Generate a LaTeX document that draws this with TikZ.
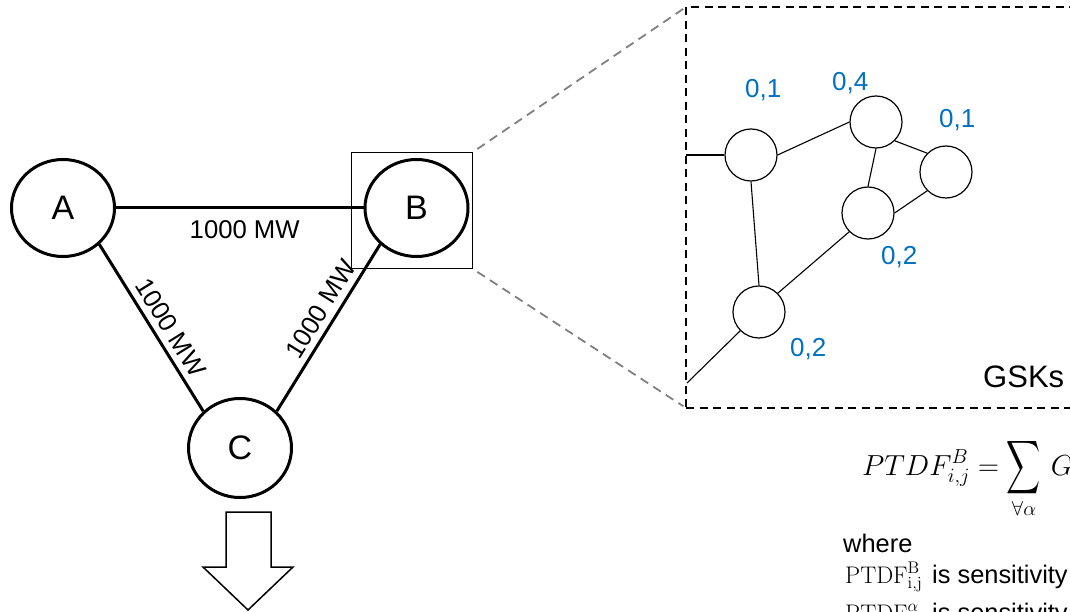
\RequirePackage{fix-cm}
\documentclass[tikz,border=0pt]{standalone}
\usepackage{exscale}
\usepackage{graphicx}
\usepackage[no-math]{fontspec}
\newfontfamily\arial{Liberation Sans}
\usetikzlibrary{shapes.geometric}
\definecolor{gskblue}{RGB}{0,112,192}
\definecolor{zoomgray}{RGB}{128,128,128}
\newcommand{\bigsum}{\mathop{\vcenter{\hbox{\scalebox{0.95}[1.5]{$\displaystyle\sum$}}}}\limits}

\begin{document}
\begin{tikzpicture}[x=1pt,y=-1pt,
  bus/.style={draw, line width=3pt, ellipse, minimum width=103pt, minimum height=97pt,
    inner sep=0pt, font=\arial\fontsize{34}{40}\selectfont},
  tie/.style={line width=3pt},
  flowlabel/.style={font=\arial\fontsize{25.7}{30}\selectfont, inner sep=0pt},
  subbus/.style={draw, circle, line width=1.2pt, minimum size=52pt, inner sep=0pt},
  subline/.style={line width=1.1pt},
  gsk/.style={text=gskblue, font=\arial\fontsize{26}{30}\selectfont, inner sep=0pt, anchor=base west},
  zoomline/.style={draw=zoomgray, line width=1.8pt, dash pattern=on 9pt off 6pt},
  plain/.style={inner sep=0pt, anchor=base west},
  bodytext/.style={plain, font=\arial\fontsize{25.4}{30}\selectfont},
]
\useasboundingbox (0,0) rectangle (1070,612);
\clip (0,0) rectangle (1070,612);

% three-bus system
\node[bus] (A) at (63,208) {A};
\node[bus] (B) at (416.5,208) {B};
\node[bus, minimum height=99pt] (C) at (240,448) {C};

\draw[tie] (A) -- node[flowlabel, pos=0.52, below=11pt] {1000 MW} (B);
\draw[tie] (A.-45) -- node[flowlabel, sloped, pos=0.55, above=6pt] {1000 MW} (C.135);
\draw[tie] (C.45) -- node[flowlabel, sloped, pos=0.56, above=6pt] {1000 MW} (B.-135);

% load arrow below C
\draw[line width=1.5pt, fill=white, line join=miter]
  (226,512) -- (271,512) -- (271,567) -- (293,567) -- (248,610)
  -- (203,567) -- (226,567) -- cycle;

% zoom window on bus B
\node[draw, line width=1.3pt, minimum width=121pt, minimum height=116pt, inner sep=0pt]
  (Bzone) at (412,210.5) {};
\node[draw, line width=2pt, dash pattern=on 8pt off 5.5pt, minimum width=400pt,
  minimum height=401pt, inner sep=0pt, outer sep=0pt, anchor=north west]
  (gskzone) at (686,7) {};
\draw[zoomline, shorten <=5pt, shorten >=3pt] (Bzone.north east) -- (gskzone.north west);
\draw[zoomline, shorten <=5pt, shorten >=3pt] (Bzone.south east) -- (gskzone.south west);

% internal network of zone B
\node[subbus] (g1) at (751,155) {};
\node[subbus] (g2) at (876,122) {};
\node[subbus] (g3) at (946,172) {};
\node[subbus] (g4) at (868,213) {};
\node[subbus] (g5) at (759,312) {};
\coordinate (w1) at (686,155);
\coordinate (w2) at (687,383);

\draw[subline] (w1) -- (g1.west);
\draw[subline] (g1.east) -- (g2.west);
\draw[subline] (g1.south) -- (g5.north);
\draw[subline] (g2.south) -- (g4.north);
\draw[subline] (g2.-45) -- (g3.135);
\draw[subline] (g3.-135) -- (g4.east);
\draw[subline] (g4.-135) -- (g5.45);
\draw[subline] (g5.-135) -- (w2);

% generation shift keys
\node[gsk] (k1) at (745,98) {0,1};
\node[gsk] (k2) at (832,91) {0,4};
\node[gsk] (k3) at (939,128) {0,1};
\node[gsk] (k4) at (881,265) {0,2};
\node[gsk] (k5) at (790,356) {0,2};
\node[plain, font=\arial\fontsize{31}{36}\selectfont] (gsklabel) at (983,387) {GSKs};

% zonal PTDF
\node[plain, font=\fontsize{29}{34}\selectfont] (ptdf) at (862,475)
  {$\displaystyle PTDF^{B}_{i,j} = \bigsum_{\forall\alpha}\, G$};
\node[bodytext] (where) at (843,552) {where};
\node[plain, font=\fontsize{24}{28}\selectfont] (sym1) at (845,583)
  {$\mathrm{PTDF}^{\mathrm{B}}_{\mathrm{i,j}}$};
\node[bodytext] (def1) at (932,583) {is sensitivity};
\node[plain, font=\fontsize{24}{28}\selectfont] (sym2) at (845,621)
  {$\mathrm{PTDF}^{\alpha}$};
\node[bodytext] (def2) at (932,621) {is sensitivity};
\end{tikzpicture}
\end{document}
